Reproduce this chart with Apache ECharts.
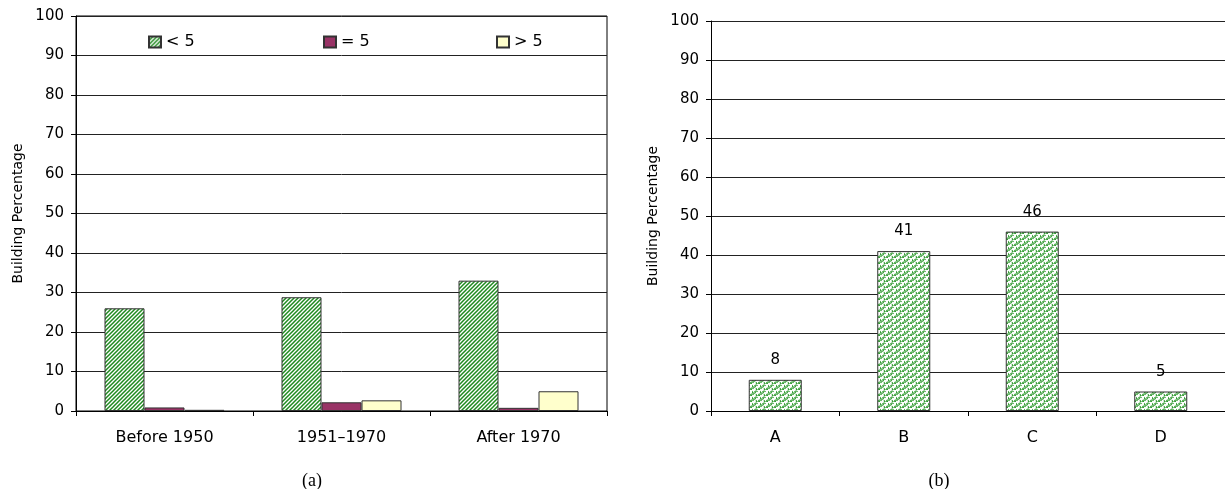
<!DOCTYPE html>
<html>
<head>
<meta charset="utf-8">
<script src="https://cdn.jsdelivr.net/npm/echarts@6/dist/echarts.min.js"></script>
<style>
  html, body { margin: 0; padding: 0; background: #fff; }
  #chart { width: 1225px; height: 489px; }
</style>
</head>
<body>
<div id="chart"></div>
<script>
// chart (a)
const periods = ["Before 1950", "1951–1970", "After 1970"];
const lessThan5 = [26, 28.8, 33];
const equal5 = [0.9, 2.2, 0.8];
const moreThan5 = [0.3, 2.7, 5];

// chart (b)
const groups = ["A", "B", "C", "D"];
const groupShare = [8, 41, 46, 5];

const yTicks = { min: 0, max: 100, interval: 10 };
const FONT = "DejaVu Sans";

// hatch fills drawn on small canvases
function stripePattern() {
  const c = document.createElement("canvas");
  c.width = 4; c.height = 4;
  const ctx = c.getContext("2d");
  ctx.fillStyle = "#fff";
  ctx.fillRect(0, 0, 4, 4);
  ctx.strokeStyle = "#1f8a1f";
  ctx.lineWidth = 1.5;
  ctx.beginPath();
  ctx.moveTo(-1, 5); ctx.lineTo(5, -1);
  ctx.moveTo(-3, 3); ctx.lineTo(3, -3);
  ctx.moveTo(1, 7); ctx.lineTo(7, 1);
  ctx.stroke();
  return { image: c, repeat: "repeat" };
}

function wavePattern() {
  const c = document.createElement("canvas");
  c.width = 8; c.height = 6;
  const ctx = c.getContext("2d");
  ctx.fillStyle = "#fff";
  ctx.fillRect(0, 0, 8, 6);
  ctx.strokeStyle = "#2f9a2f";
  ctx.lineWidth = 1.1;
  ctx.beginPath();
  ctx.arc(2, 1.5, 1.7, 0.1 * Math.PI, 1.1 * Math.PI);
  ctx.stroke();
  ctx.beginPath();
  ctx.arc(6, 4.5, 1.7, 0.1 * Math.PI, 1.1 * Math.PI);
  ctx.stroke();
  ctx.beginPath();
  ctx.arc(4, 2.5, 1.5, 1.1 * Math.PI, 1.9 * Math.PI);
  ctx.stroke();
  ctx.beginPath();
  ctx.arc(0, 5.5, 1.5, 1.1 * Math.PI, 1.9 * Math.PI);
  ctx.moveTo(8, 5.5);
  ctx.arc(8, 5.5, 1.5, 1.1 * Math.PI, 1.9 * Math.PI);
  ctx.stroke();
  return { image: c, repeat: "repeat" };
}

const yAxisBase = (idx) => ({
  type: "value",
  gridIndex: idx,
  min: yTicks.min,
  max: yTicks.max,
  interval: yTicks.interval,
  name: "Building Percentage",
  nameLocation: "middle",
  nameGap: 51,
  nameTextStyle: { fontFamily: FONT, fontSize: 14, color: "#000" },
  axisLine: { show: true, lineStyle: { color: "#000", width: 1 } },
  axisTick: { show: true, length: 5, lineStyle: { color: "#000" } },
  axisLabel: { fontFamily: FONT, fontSize: 15, color: "#000", margin: 12 },
  splitLine: { show: true, lineStyle: { color: "#222", width: 1 } }
});

const xAxisBase = (idx, data) => ({
  type: "category",
  gridIndex: idx,
  data: data,
  axisLine: { show: true, lineStyle: { color: "#000", width: 1 } },
  axisTick: { show: true, length: 5, lineStyle: { color: "#000" } },
  axisLabel: { fontFamily: FONT, fontSize: 16, color: "#000", margin: 19 }
});

const barBorder = { borderColor: "#333", borderWidth: 1 };

const chart = echarts.init(document.getElementById("chart"), null, { renderer: "canvas" });
chart.setOption({
  animation: false,
  backgroundColor: "#fff",
  grid: [
    { left: 76, top: 16, width: 531, bottom: 78, show: true, borderColor: "#000", borderWidth: 1 },
    { left: 711, top: 21, width: 522, bottom: 78 }
  ],
  title: [
    { text: "(a)", left: 307, top: 467, textAlign: "center",
      textStyle: { fontFamily: "Liberation Serif", fontSize: 18, fontWeight: "normal", color: "#000" } },
    { text: "(b)", left: 934, top: 467, textAlign: "center",
      textStyle: { fontFamily: "Liberation Serif", fontSize: 18, fontWeight: "normal", color: "#000" } }
  ],
  legend: [
    { data: ["< 5"], left: 143, top: 29 },
    { data: ["= 5"], left: 318, top: 29 },
    { data: ["> 5"], left: 491, top: 29 }
  ].map((l) => Object.assign(l, {
    icon: "rect",
    itemWidth: 12,
    itemHeight: 11,
    itemGap: 6,
    textStyle: { fontFamily: FONT, fontSize: 16, color: "#000" }
  })),
  xAxis: [xAxisBase(0, periods), xAxisBase(1, groups)],
  yAxis: [yAxisBase(0), yAxisBase(1)],
  series: [
    {
      name: "< 5", type: "bar", xAxisIndex: 0, yAxisIndex: 0,
      barWidth: 40, barGap: "0%",
      itemStyle: Object.assign({ color: stripePattern() }, barBorder),
      data: lessThan5
    },
    {
      name: "= 5", type: "bar", xAxisIndex: 0, yAxisIndex: 0,
      barWidth: 40, barGap: "0%",
      itemStyle: Object.assign({ color: "#993366" }, barBorder),
      data: equal5
    },
    {
      name: "> 5", type: "bar", xAxisIndex: 0, yAxisIndex: 0,
      barWidth: 40, barGap: "0%",
      itemStyle: Object.assign({ color: "#FFFFCC" }, barBorder),
      data: moreThan5
    },
    {
      name: "share", type: "bar", xAxisIndex: 1, yAxisIndex: 1,
      barWidth: 53,
      itemStyle: Object.assign({ color: wavePattern() }, barBorder),
      label: { show: true, position: "top", distance: 12, fontFamily: FONT, fontSize: 15, color: "#000" },
      data: groupShare
    }
  ]
});
</script>
</body>
</html>
